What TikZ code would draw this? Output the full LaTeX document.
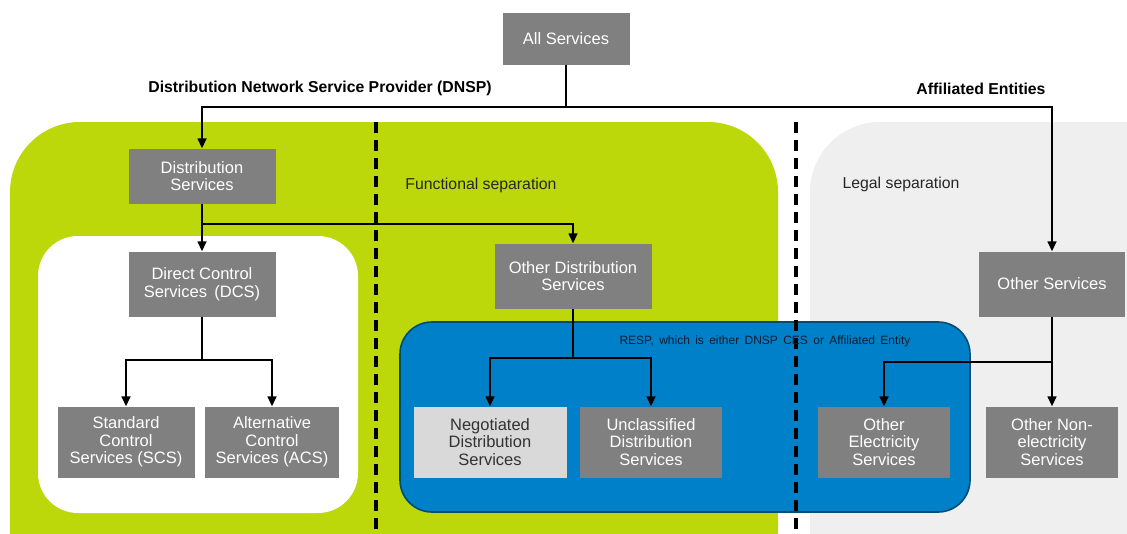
\documentclass[tikz,border=0pt]{standalone}
\usepackage{fontspec}
\setmainfont{Liberation Sans}
\usetikzlibrary{arrows.meta}
\definecolor{boxgray}{HTML}{808080}
\definecolor{lime}{HTML}{BCD80B}
\definecolor{lightbg}{HTML}{EFEFEF}
\definecolor{respblue}{HTML}{0080C8}
\definecolor{negfill}{HTML}{D9D9D9}
\definecolor{resptext}{HTML}{101C30}
\tikzset{
  svc/.style={fill=boxgray, draw=none, text=white, align=center, inner sep=2pt,
    font=\fontsize{16.5}{17.5}\selectfont},
  neg/.style={svc, fill=negfill, text=black!80},
  conn/.style={line width=1.5pt, black},
  arr/.style={conn, -{Triangle[length=10pt,width=9pt]}},
  sepline/.style={line width=3.2pt, black, dash pattern=on 11pt off 7pt},
  lbl/.style={font=\fontsize{15.8}{18}\selectfont, text=black!85},
  hdr/.style={font=\fontsize{15.8}{18}\selectfont\bfseries, text=black},
}
\begin{document}
\begin{tikzpicture}[x=1pt,y=-1pt]
\useasboundingbox (0,0) rectangle (1127,533);
\begin{scope}
\clip (0,0) rectangle (1127,533);
\fill[white] (0,0) rectangle (1127,533);
% regions
\fill[lime, rounded corners=70pt] (10,122) rectangle (778,600);
\fill[lightbg, rounded corners=70pt] (810,122) rectangle (1200,600);
\fill[white, rounded corners=40pt] (38,236) rectangle (358,513);
\draw[respblue!60!black, fill=respblue, line width=1.6pt, rounded corners=32pt] (400,322) rectangle (970,512);
\draw[sepline] (376,122) -- (376,540);
\draw[sepline] (796,122) -- (796,540);
\end{scope}
% labels
\node[hdr] (dnspl) at (320,88) {Distribution Network Service Provider (DNSP)};
\node[hdr] (affl) at (981,89) {Affiliated Entities};
\node[lbl] (funcl) at (481,185) {Functional separation};
\node[lbl] (legl) at (901,184) {Legal separation};
\node[font=\fontsize{12}{14}\selectfont, text=resptext] (respl) at (765,341) {RESP,\, which\, is\, either\, DNSP\, CES\, or\, Affiliated\, Entity};
% nodes
\node[svc, minimum width=127pt, minimum height=52pt] (all) at (566,39) {All Services};
\node[svc, minimum width=147pt, minimum height=55pt] (ds) at (202,176) {Distribution\\Services};
\node[svc, minimum width=147pt, minimum height=65pt] (dcs) at (202,284) {Direct Control\\Services \,(DCS)};
\node[svc, minimum width=137pt, minimum height=71pt] (scs) at (126,442) {Standard\\Control\\Services (SCS)};
\node[svc, minimum width=134pt, minimum height=71pt] (acs) at (272,442) {Alternative\\Control\\Services (ACS)};
\node[svc, minimum width=157pt, minimum height=65pt] (ods) at (573,276) {Other Distribution\\Services};
\node[neg, minimum width=153pt, minimum height=71pt] (nds) at (490,442) {Negotiated\\Distribution\\Services};
\node[svc, minimum width=142pt, minimum height=71pt] (uds) at (651,442) {Unclassified\\Distribution\\Services};
\node[svc, minimum width=146pt, minimum height=65pt] (os) at (1052,284) {Other Services};
\node[svc, minimum width=132pt, minimum height=71pt] (oes) at (884,442) {Other\\Electricity\\Services};
\node[svc, minimum width=132pt, minimum height=71pt] (ones) at (1052,442) {Other Non-\\electricity\\Services};
% junctions
\coordinate (j0) at (566,107);
\coordinate (j1) at (202,224);
\coordinate (j2) at (202,360);
\coordinate (j3) at (573,358);
\coordinate (j4) at (1052,362);
% connectors
\draw[conn] (all.south) -- (j0);
\draw[arr] (j0) -| (ds.north);
\draw[arr] (j0) -| (os.north);
\draw[arr] (ds.south) -- (dcs.north);
\draw[arr] (j1) -| (ods.north);
\draw[conn] (dcs.south) -- (j2);
\draw[arr] (j2) -| (scs.north);
\draw[arr] (j2) -| (acs.north);
\draw[conn] (ods.south) -- (j3);
\draw[arr] (j3) -| (nds.north);
\draw[arr] (j3) -| (uds.north);
\draw[arr] (os.south) -- (ones.north);
\draw[arr] (j4) -| (oes.north);
\end{tikzpicture}
\end{document}
